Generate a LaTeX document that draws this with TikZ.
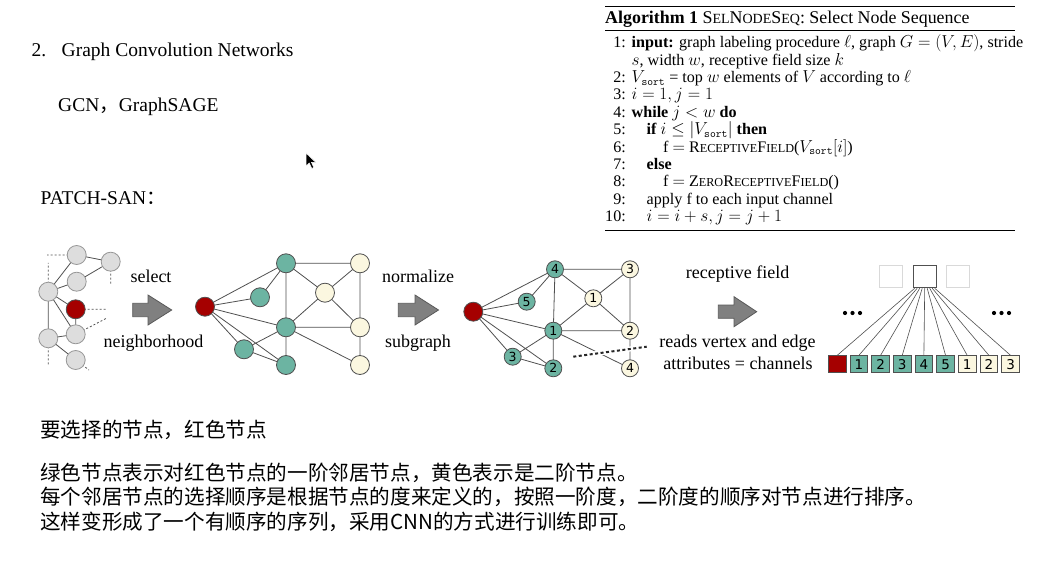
\documentclass[tikz,border=0pt]{standalone}
\usepackage{fontspec}
\setmainfont{Liberation Serif}
\newfontfamily\cjk{Noto Sans CJK SC}
\newfontfamily\numfont{DejaVu Sans}
\usetikzlibrary{calc}
\definecolor{nred}{RGB}{165,0,0}
\definecolor{nteal}{RGB}{108,180,162}
\definecolor{ncream}{RGB}{251,247,224}
\definecolor{ngrey}{RGB}{221,221,221}
\definecolor{ngreyline}{RGB}{150,150,150}
\definecolor{edgec}{RGB}{80,80,80}
\definecolor{arrowc}{RGB}{128,128,128}
\newcommand\fsc[2]{#1{\fontsize{12.2}{13}\selectfont #2}}
\newcommand\tsc[2]{#1{\fontsize{14}{15}\selectfont #2}}
\tikzset{
  gnode/.style={circle,draw=ngreyline,fill=ngrey,minimum size=19pt,inner sep=0pt,line width=0.8pt},
  rnode/.style={circle,draw=edgec,fill=nred,minimum size=19pt,inner sep=0pt,line width=0.8pt},
  tnode/.style={circle,draw=edgec,fill=nteal,minimum size=19pt,inner sep=0pt,line width=0.8pt},
  cnode/.style={circle,draw=edgec,fill=ncream,minimum size=19pt,inner sep=0pt,line width=0.8pt},
  tnum/.style={tnode,minimum size=17pt,font=\numfont\fontsize{12.5}{13}\selectfont},
  cnum/.style={cnode,minimum size=17pt,font=\numfont\fontsize{12.5}{13}\selectfont},
  edge/.style={draw=edgec,line width=0.8pt},
  dstub/.style={draw=edgec,line width=0.8pt,dash pattern=on 2pt off 2pt},
  lbl/.style={inner sep=0pt,font=\fontsize{18}{20}\selectfont},
  bigarrow/.style={fill=arrowc,draw=black!65,line width=0.8pt,line join=miter},
  seqbox/.style={draw=edgec,minimum width=17.7pt,minimum height=17pt,inner sep=0pt,line width=0.7pt,font=\numfont\fontsize{13.5}{14}\selectfont},
  topbox/.style={draw=edgec,minimum width=22.7pt,minimum height=22.7pt,inner sep=0pt,line width=0.8pt},
  faintbox/.style={draw=black!15,minimum width=22.7pt,minimum height=22.7pt,inner sep=0pt,line width=0.8pt},
  algn/.style={anchor=base east,inner sep=0pt,text height=11pt,text depth=3pt,font=\fontsize{16.1}{17}\selectfont},
  algt/.style={anchor=base west,inner sep=0pt,text height=11pt,text depth=3pt,font=\fontsize{16.1}{17}\selectfont},
  ttl/.style={anchor=base west,inner sep=0pt,font=\fontsize{19.5}{22}\selectfont},
  zh/.style={anchor=base west,inner sep=0pt,font=\cjk\fontsize{20.6}{22}\selectfont},
  fan/.style={draw=edgec,line width=0.6pt}
}
\begin{document}
\begin{tikzpicture}[x=1pt,y=-1pt]
\useasboundingbox (0,0) rectangle (1046,561);
\fill[white] (0,0) rectangle (1046,561);

% ---------- left titles ----------
\node[ttl] (t1) at (31.5,56.5) {2.};
\node[ttl] (t2) at (61.5,56.5) {Graph Convolution Networks};
\node[ttl] (t3) at (58,111.5) {GCN{\cjk ，}GraphSAGE};
\node[ttl] (t4) at (40.5,205) {PATCH-SAN{\cjk ：}};

% mouse cursor
\filldraw[fill=black,draw=white,line width=0.5pt] (306,153) -- (306,166) -- (309.3,163) -- (311.8,168.5) -- (313.8,167.5) -- (311.4,162.4) -- (315.8,162.4) -- cycle;

% ---------- algorithm ----------
\draw[line width=1pt] (605,7) -- (1015,7);
\draw[line width=0.7pt] (605,30.5) -- (1015,30.5);
\draw[line width=0.7pt] (605,230.5) -- (1015,230.5);
\node[anchor=base west,inner sep=0pt,font=\fontsize{17.9}{19}\selectfont] (atitle) at (605,24)
  {\textbf{Algorithm 1} \tsc{S}{EL}\tsc{N}{ODE}\tsc{S}{EQ}: Select Node Sequence};
\foreach \n/\yy in {1/47.7,2/82.5,3/99.9,4/117.3,5/134.7,6/152.1,7/169.5,8/186.9,9/204.3,10/221.7}{
  \node[algn] (ln\n) at (626,\yy) {\n:};
}
\node[algt] (a1l) at (631.5,47.7) {\textbf{input:} graph labeling procedure $\ell$, graph $G=(V,E)$, stride};
\node[algt] (a1m) at (631.5,65.1) {$s$, width $w$, receptive field size $k$};
\node[algt] (a2l) at (631.5,82.5) {$V_{\mathtt{sort}}$ = top $w$ elements of $V$ according to $\ell$};
\node[algt] (a3l) at (631.5,99.9) {$i=1,j=1$};
\node[algt] (a4l) at (631.5,117.3) {\textbf{while} $j<w$ \textbf{do}};
\node[algt] (a5l) at (646.5,134.7) {\textbf{if} $i\le|V_{\mathtt{sort}}|$ \textbf{then}};
\node[algt] (a6l) at (663,152.1) {f $=$ \fsc{R}{ECEPTIVE}\fsc{F}{IELD}($V_{\mathtt{sort}}[i]$)};
\node[algt] (a7l) at (646.5,169.5) {\textbf{else}};
\node[algt] (a8l) at (663,186.9) {f $=$ \fsc{Z}{ERO}\fsc{R}{ECEPTIVE}\fsc{F}{IELD}()};
\node[algt] (a9l) at (646.5,204.3) {apply f to each input channel};
\node[algt] (a10l) at (646.5,221.7) {$i=i+s,j=j+1$};

% ---------- graph 1 ----------
\coordinate (p1) at (76.7,255);
\coordinate (p2) at (110.7,261.7);
\coordinate (p3) at (76.7,281.7);
\coordinate (p4) at (48.3,291.7);
\coordinate (pr) at (75.7,309.3);
\coordinate (p5) at (75.7,334.3);
\coordinate (p6) at (48.3,338.3);
\coordinate (p7) at (75.7,360);
\coordinate (d1) at (47,255);
\coordinate (d2) at (48.3,263);
\coordinate (d3) at (110.7,285);
\coordinate (d4) at (106,309.3);
\coordinate (d5) at (106,318.5);
\coordinate (d6) at (48.3,366);
\coordinate (d7) at (89,370);
\draw[edge] (p1) -- (p2) (p2) -- (p3) (p1) -- (p4) (p3) -- (p4) (p4) -- (pr) (p4) -- (p5)
  (p4) -- (p6) (pr) -- (p5) (p6) -- (p5) (p6) -- (p7);
\draw[dstub] (p1) -- (d1) (p4) -- (d2) (p2) -- (d3) (pr) -- (d4) (p5) -- (d5) (p6) -- (d6) (p7) -- (d7);
\node[gnode] (a1) at (p1) {};
\node[gnode] (a2) at (p2) {};
\node[gnode] (a3) at (p3) {};
\node[gnode] (a4) at (p4) {};
\node[rnode] (ar) at (pr) {};
\node[gnode] (a5) at (p5) {};
\node[gnode] (a6) at (p6) {};
\node[gnode] (a7) at (p7) {};

% arrow 1
\node[lbl,anchor=base] (l1a) at (151,282.5) {select};
\node[lbl,anchor=base] (l1b) at (153.5,347) {neighborhood};
\draw[bigarrow] (132.7,303.3) -- (148,303.3) -- (148,295) -- (171.7,310) -- (148,325) -- (148,316.7) -- (132.7,316.7) -- cycle;

% ---------- graph 2 ----------
\coordinate (br) at (205,306.7);
\coordinate (g1) at (286,263.3);
\coordinate (g2) at (260,297.3);
\coordinate (g3) at (286,327.3);
\coordinate (g4) at (244,349.3);
\coordinate (g5) at (286,365);
\coordinate (y1) at (325,292.7);
\coordinate (y2) at (360,263.3);
\coordinate (y3) at (360,327.3);
\coordinate (y4) at (360,365);
\draw[edge] (br) -- (g1) (br) -- (g2) (br) -- (g3) (br) -- (g4) (br) -- (g5)
  (g1) -- (g2) (g1) -- (g3) (g1) -- (y1) (g1) -- (y2) (y1) -- (y2) (y1) -- (y3) (y1) -- (g3)
  (g3) -- (y3) (g3) -- (g4) (g3) -- (g5) (g3) -- (y4) (g4) -- (g5) (y2) -- (y3) (y3) -- (y4);
\node[rnode] (nbr) at (br) {};
\node[tnode] (ng1) at (g1) {};
\node[tnode] (ng2) at (g2) {};
\node[tnode] (ng3) at (g3) {};
\node[tnode] (ng4) at (g4) {};
\node[tnode] (ng5) at (g5) {};
\node[cnode] (ny1) at (y1) {};
\node[cnode] (ny2) at (y2) {};
\node[cnode] (ny3) at (y3) {};
\node[cnode] (ny4) at (y4) {};

% arrow 2
\node[lbl,anchor=base] (l2a) at (418,282.5) {normalize};
\node[lbl,anchor=base] (l2b) at (418,347.5) {subgraph};
\draw[bigarrow] (398.3,303.3) -- (415,303.3) -- (415,295) -- (438.5,310) -- (415,325) -- (415,316.7) -- (398.3,316.7) -- cycle;

% ---------- graph 3 ----------
\coordinate (cr) at (473.3,311.7);
\coordinate (c4) at (555,269.3);
\coordinate (c5) at (526.7,301.7);
\coordinate (c1) at (553.3,330.7);
\coordinate (c3) at (512.7,356.7);
\coordinate (c2) at (553.3,368.3);
\coordinate (z1) at (593.3,298.3);
\coordinate (z3) at (630,269.3);
\coordinate (z2) at (630,330.7);
\coordinate (z4) at (630,368.3);
\draw[edge] (cr) -- (c4) (cr) -- (c5) (cr) -- (c1) (cr) -- (c3) (cr) -- (c2)
  (c4) -- (c5) (c4) -- (c1) (c4) -- (z1) (c4) -- (z3) (z1) -- (z3) (z1) -- (z2) (z1) -- (c1)
  (c1) -- (z2) (c1) -- (c3) (c1) -- (c2) (c1) -- (z4) (c3) -- (c2) (z3) -- (z2) (z2) -- (z4);
\coordinate (cut1) at (573.3,356.7);
\coordinate (cut2) at (646.7,346.7);
\draw[line width=2pt,draw=black!85,dash pattern=on 3pt off 2.5pt,preaction={draw=white,line width=5pt,solid}] (cut1) -- (cut2);
\node[rnode] (ncr) at (cr) {};
\node[tnum] (nc4) at (c4) {4};
\node[tnum] (nc5) at (c5) {5};
\node[tnum] (nc1) at (c1) {1};
\node[tnum] (nc3) at (c3) {3};
\node[tnum] (nc2) at (c2) {2};
\node[cnum] (nz1) at (z1) {1};
\node[cnum] (nz3) at (z3) {3};
\node[cnum] (nz2) at (z2) {2};
\node[cnum] (nz4) at (z4) {4};

% arrow 3
\node[lbl,anchor=base] (l3a) at (737.5,279) {receptive field};
\node[lbl,anchor=base] (l3b) at (737.5,347.5) {reads vertex and edge};
\node[lbl,anchor=base] (l3c) at (738,369.5) {attributes = channels};
\draw[bigarrow] (718.3,305) -- (734,305) -- (734,296.7) -- (756.7,311.7) -- (734,326.7) -- (734,318.3) -- (718.3,318.3) -- cycle;

% ---------- receptive field ----------
\node[faintbox] (fb1) at (890.7,276.5) {};
\node[topbox] (tb) at (924.7,276.5) {};
\node[faintbox] (fb2) at (958,276.5) {};
\node[seqbox,fill=nred] (s0) at (837.2,364.2) {};
\node[seqbox,fill=nteal] (s1) at (858.87,364.2) {1};
\node[seqbox,fill=nteal] (s2) at (880.54,364.2) {2};
\node[seqbox,fill=nteal] (s3) at (902.21,364.2) {3};
\node[seqbox,fill=nteal] (s4) at (923.88,364.2) {4};
\node[seqbox,fill=nteal] (s5) at (945.55,364.2) {5};
\node[seqbox,fill=ncream] (s6) at (967.22,364.2) {1};
\node[seqbox,fill=ncream] (s7) at (988.89,364.2) {2};
\node[seqbox,fill=ncream] (s8) at (1010.56,364.2) {3};
\foreach \i/\dx in {0/-10,1/-7.5,2/-5,3/-2.5,4/0,5/2.5,6/5,7/7.5,8/10}{
  \draw[fan] ([xshift=\dx pt]tb.south) -- (s\i.north);
}
\foreach \xx in {845,852.5,860,994,1001.5,1009}{
  \fill[black] (\xx,313) circle (2.1);
}

% ---------- Chinese notes ----------
\node[zh] (z1t) at (40,437) {要选择的节点，红色节点};
\node[zh] (z2t) at (40,480) {绿色节点表示对红色节点的一阶邻居节点，黄色表示是二阶节点。};
\node[zh] (z3t) at (40,504.5) {每个邻居节点的选择顺序是根据节点的度来定义的，按照一阶度，二阶度的顺序对节点进行排序。};
\node[zh] (z4t) at (40,529) {这样变形成了一个有顺序的序列，采用CNN的方式进行训练即可。};
\end{tikzpicture}
\end{document}
